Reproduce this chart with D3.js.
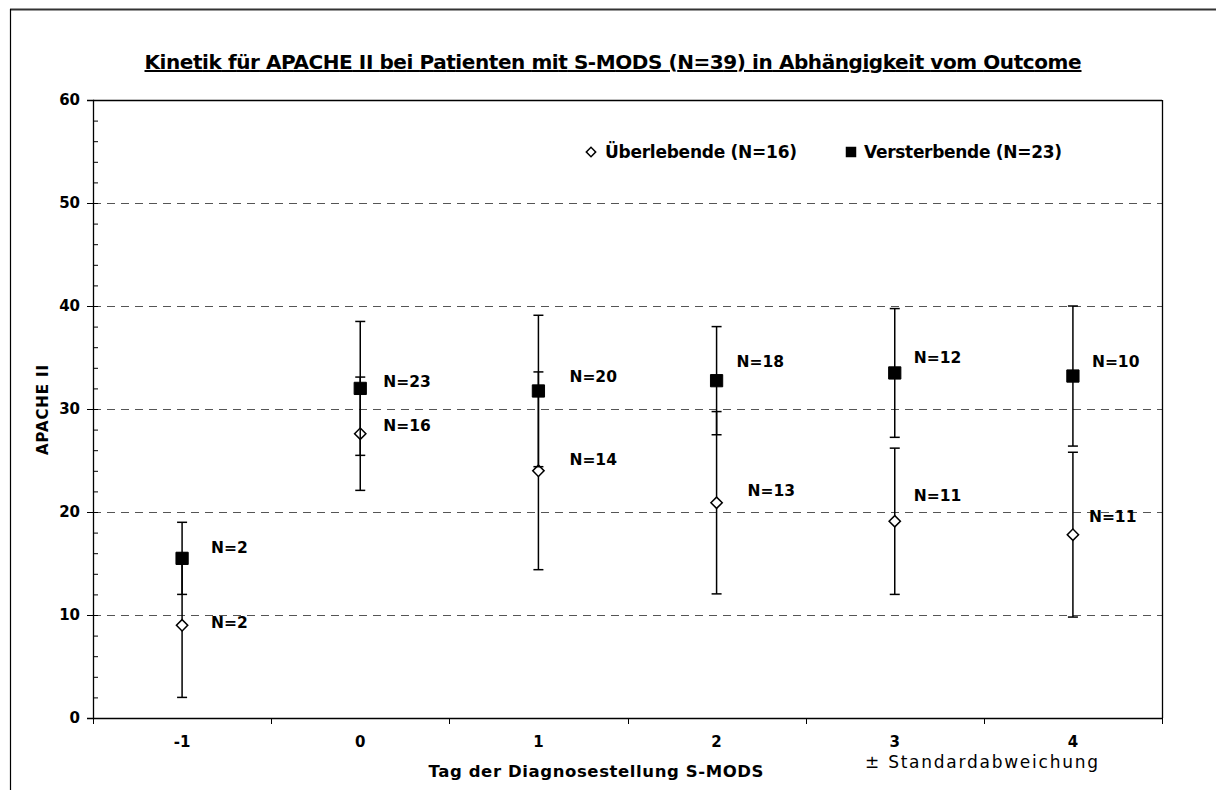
<!DOCTYPE html>
<html>
<head>
<meta charset="utf-8">
<script src="https://cdn.jsdelivr.net/npm/d3@7"></script>
<style>
  body { margin: 0; background: #fff; }
  text { font-family: "DejaVu Sans", sans-serif; fill: #000; }
  .b { font-weight: bold; }
</style>
</head>
<body>
<svg id="chart"></svg>
<script>
// days relative to diagnosis
var days = ["-1", "0", "1", "2", "3", "4"];

// Überlebende (survivors)
var survMean = [9.0, 27.6, 24.0, 20.9, 19.1, 17.8];
var survSD   = [7.0, 5.5, 9.6, 8.85, 7.1, 8.0];
var survN    = [2, 16, 14, 13, 11, 11];
var survLabelY = [9.3, 28.4, 25.1, 22.1, 21.6, 19.6];

// Versterbende (non-survivors)
var deadMean = [15.5, 32.0, 31.75, 32.75, 33.5, 33.2];
var deadSD   = [3.5, 6.5, 7.35, 5.25, 6.25, 6.8];
var deadN    = [2, 23, 20, 18, 12, 10];
var deadLabelY = [16.6, 32.7, 33.2, 34.6, 35.0, 34.6];

var yTicks = [0, 10, 20, 30, 40, 50, 60];

// label x shifts (px) from the category centre
var survShift = [29, 23, 31, 31, 19, 16];
var deadShift = [29, 23, 31, 20, 19, 19];

var W = 1216, H = 790;
var margin = {top: 100, right: 54, bottom: 72, left: 93};
var width = W - margin.left - margin.right;
var height = H - margin.top - margin.bottom;

var root = d3.select('#chart').attr('width', W).attr('height', H);

// outer frame (top + left only visible)
root.append('line').attr('x1', 10).attr('x2', W).attr('y1', 9.5).attr('y2', 9.5)
    .attr('stroke', '#333').attr('stroke-width', 2);
root.append('line').attr('x1', 10.5).attr('x2', 10.5).attr('y1', 9).attr('y2', H)
    .attr('stroke', '#000').attr('stroke-width', 1.2);

// title
root.append('text').attr('class', 'b')
    .attr('x', 613).attr('y', 69)
    .attr('text-anchor', 'middle')
    .attr('font-size', 20)
    .attr('text-decoration', 'underline')
    .attr('textLength', 937).attr('lengthAdjust', 'spacing')
    .text('Kinetik für APACHE II bei Patienten mit S-MODS (N=39) in Abhängigkeit vom Outcome');

var svg = root.append('g')
    .attr('transform', 'translate(' + margin.left + ',' + margin.top + ')');

var x = d3.scaleBand().domain(days).range([0, width]);
var y = d3.scaleLinear().domain([0, 60]).range([height, 0]);

// dashed grid
svg.selectAll('.grid')
    .data(yTicks.filter(function(d) { return d > 0 && d < 60; }))
    .enter().append('line')
    .attr('x1', 0).attr('x2', width)
    .attr('y1', function(d) { return Math.round(y(d)) + 0.5; })
    .attr('y2', function(d) { return Math.round(y(d)) + 0.5; })
    .attr('stroke', '#555').attr('stroke-width', 1)
    .attr('stroke-dasharray', '8,6');

// plot frame top/right
svg.append('line').attr('x1', 0).attr('x2', width).attr('y1', 0.5).attr('y2', 0.5)
    .attr('stroke', '#000').attr('stroke-width', 1.3);
svg.append('line').attr('x1', width + 0.5).attr('x2', width + 0.5).attr('y1', 0).attr('y2', height)
    .attr('stroke', '#000').attr('stroke-width', 1.3);

// minor y ticks (inside)
var yMinor = d3.axisRight(y).tickValues(d3.range(0, 61, 2)).tickSize(5).tickFormat('');
svg.append('g').call(yMinor).call(function(g) {
    g.select('.domain').remove();
    g.selectAll('line').attr('stroke', '#000');
});

// y axis
var yAxis = d3.axisLeft(y).tickValues(yTicks).tickSize(6).tickPadding(7);
svg.append('g').call(yAxis).call(function(g) {
    g.attr('font-size', 15).attr('font-family', null);
    g.select('.domain').attr('stroke', '#000').attr('stroke-width', 1.3);
    g.selectAll('text').attr('class', 'b');
});

// x axis with ticks at band boundaries
var xAxis = d3.axisBottom(x).tickSize(0).tickPadding(18);
svg.append('g').attr('transform', 'translate(0,' + height + ')').call(xAxis).call(function(g) {
    g.attr('font-size', 15).attr('font-family', null);
    g.select('.domain').attr('stroke', '#000').attr('stroke-width', 1.3);
    g.selectAll('text').attr('class', 'b');
});
svg.append('g').selectAll('line')
    .data(days.concat(['end']))
    .enter().append('line')
    .attr('x1', function(d, i) { return Math.round(i * x.bandwidth()) + 0.5; })
    .attr('x2', function(d, i) { return Math.round(i * x.bandwidth()) + 0.5; })
    .attr('y1', height).attr('y2', height + 6)
    .attr('stroke', '#000');

function cx(d) { return x(d) + x.bandwidth() / 2; }

function drawSeries(mean, sd, n, labY, shift, kind) {
    var data = days.map(function(d, i) {
        return {day: d, m: mean[i], s: sd[i], n: n[i], ly: labY[i], dx: shift[i]};
    });
    var g = svg.append('g');
    var bars = g.selectAll('.eb').data(data).enter().append('g')
        .attr('stroke', '#000').attr('stroke-width', 1.5);
    bars.append('line')
        .attr('x1', function(d) { return cx(d.day); }).attr('x2', function(d) { return cx(d.day); })
        .attr('y1', function(d) { return y(d.m - d.s); })
        .attr('y2', function(d) { return y(d.m + d.s); });
    [-1, 1].forEach(function(k) {
        bars.append('line')
            .attr('x1', function(d) { return cx(d.day) - 5; })
            .attr('x2', function(d) { return cx(d.day) + 5; })
            .attr('y1', function(d) { return y(d.m + k * d.s); })
            .attr('y2', function(d) { return y(d.m + k * d.s); });
    });
    return {g: g, data: data, kind: kind};
}

var surv = drawSeries(survMean, survSD, survN, survLabelY, survShift, 'diamond');
var dead = drawSeries(deadMean, deadSD, deadN, deadLabelY, deadShift, 'square');

[surv, dead].forEach(function(s) {
    var dia = s.kind === 'diamond';
    s.g.selectAll('.pt').data(s.data).enter().append('path')
        .attr('transform', function(d) {
            return 'translate(' + cx(d.day) + ',' + y(d.m) + ')' + (dia ? ' rotate(45)' : '');
        })
        .attr('d', d3.symbol().type(d3.symbolSquare).size(dia ? 64 : 150))
        .attr('fill', dia ? '#fff' : '#000').attr('stroke', '#000').attr('stroke-width', dia ? 1.5 : 1);
    s.g.selectAll('.lbl').data(s.data).enter().append('text')
        .attr('class', 'b').attr('font-size', 15.5)
        .attr('x', function(d) { return cx(d.day) + d.dx; })
        .attr('y', function(d) { return y(d.ly); })
        .attr('dy', '0.36em')
        .text(function(d) { return 'N=' + d.n; });
});

// legend
var leg = root.append('g');
leg.append('path').attr('transform', 'translate(591,152) rotate(45)')
    .attr('d', d3.symbol().type(d3.symbolSquare).size(44))
    .attr('fill', '#fff').attr('stroke', '#000').attr('stroke-width', 1.5);
leg.append('text').attr('class', 'b').attr('font-size', 17).attr('x', 605).attr('y', 158)
    .attr('textLength', 192).attr('lengthAdjust', 'spacing')
    .text('Überlebende (N=16)');
leg.append('path').attr('transform', 'translate(851,152)')
    .attr('d', d3.symbol().type(d3.symbolSquare).size(110))
    .attr('fill', '#000');
leg.append('text').attr('class', 'b').attr('font-size', 17).attr('x', 864).attr('y', 158)
    .attr('textLength', 198).attr('lengthAdjust', 'spacing')
    .text('Versterbende (N=23)');

// axis titles
root.append('text').attr('class', 'b').attr('font-size', 16.5)
    .attr('x', 596).attr('y', 777).attr('text-anchor', 'middle')
    .attr('textLength', 335).attr('lengthAdjust', 'spacing')
    .text('Tag der Diagnosestellung S-MODS');
root.append('text').attr('class', 'b').attr('font-size', 15)
    .attr('transform', 'translate(48,410) rotate(-90)').attr('text-anchor', 'middle')
    .attr('textLength', 90).attr('lengthAdjust', 'spacing')
    .text('APACHE II');
root.append('text').attr('font-size', 17)
    .attr('x', 865).attr('y', 768)
    .attr('textLength', 233).attr('lengthAdjust', 'spacing')
    .text('± Standardabweichung');
</script>
</body>
</html>
